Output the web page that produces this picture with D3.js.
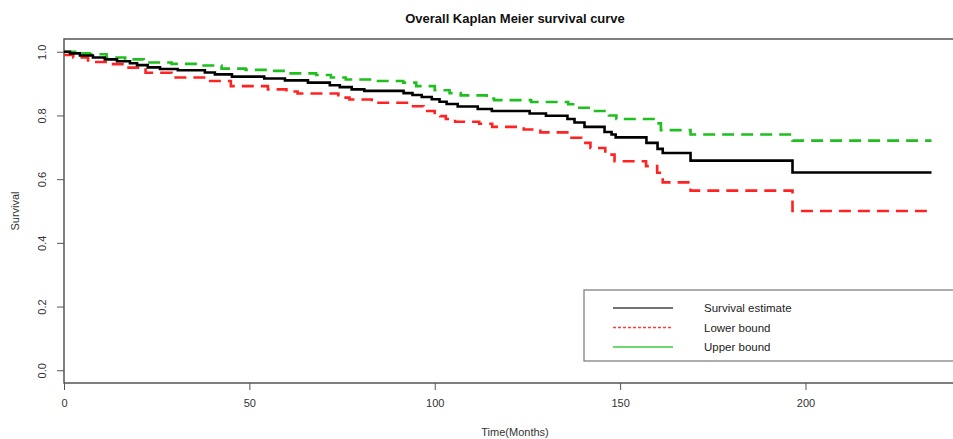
<!DOCTYPE html>
<html>
<head>
<meta charset="utf-8">
<script src="https://cdn.jsdelivr.net/npm/d3@7"></script>
<style>
  body { margin: 0; background: #fff; }
  svg { font-family: "Liberation Sans", Arial, sans-serif; }
</style>
</head>
<body>
<svg id="chart" width="953" height="439"></svg>
<script>
// survival estimate (months, S)
var estTime = [0, 1.6, 4.3, 7.8, 11, 14.3, 17.8, 19.7, 22.6, 25.9, 30.7, 38, 40.7, 45.3, 54, 59.6, 65.8, 71.7, 74.4, 77.6, 81, 91.6, 94, 96.5, 99.2, 101.3, 103.2, 106.2, 111.6, 115.4, 125.6, 130, 135.8, 137.7, 140.4, 145.8, 147.7, 148.8, 157.1, 160.1, 161.5, 169, 196.5, 234];
var estSurv = [1.0, 0.995, 0.988, 0.982, 0.976, 0.970, 0.964, 0.958, 0.951, 0.946, 0.942, 0.935, 0.929, 0.922, 0.916, 0.910, 0.903, 0.895, 0.889, 0.882, 0.877, 0.870, 0.864, 0.858, 0.851, 0.843, 0.836, 0.828, 0.820, 0.814, 0.806, 0.799, 0.789, 0.778, 0.764, 0.748, 0.740, 0.731, 0.714, 0.695, 0.682, 0.658, 0.621, 0.621];
// lower bound
var lowTime = [0, 2.5, 6.5, 12, 16.5, 22, 29, 38.5, 45, 55, 60, 63, 74, 77, 83, 93, 97, 100, 101.5, 103, 105.5, 112, 115.5, 124, 128.5, 136.5, 139.5, 142, 146, 148.5, 157, 160, 161.5, 169, 196.5, 234];
var lowSurv = [0.99, 0.982, 0.968, 0.961, 0.950, 0.934, 0.919, 0.908, 0.892, 0.882, 0.875, 0.869, 0.856, 0.850, 0.840, 0.829, 0.814, 0.803, 0.798, 0.789, 0.780, 0.774, 0.764, 0.756, 0.747, 0.730, 0.714, 0.698, 0.677, 0.656, 0.641, 0.620, 0.590, 0.564, 0.50, 0.50];
// upper bound
var upTime = [0, 3, 7, 11.5, 16.5, 21.5, 29, 37, 42.5, 49, 55, 60, 68, 72, 76, 83, 91.5, 95, 100, 104, 107, 114, 116, 126, 136, 139, 142, 147, 149, 159, 161, 169, 196.5, 234];
var upSurv = [1.0, 0.995, 0.992, 0.982, 0.976, 0.966, 0.962, 0.957, 0.947, 0.943, 0.940, 0.932, 0.927, 0.919, 0.913, 0.908, 0.903, 0.892, 0.879, 0.870, 0.863, 0.853, 0.848, 0.842, 0.835, 0.824, 0.814, 0.800, 0.789, 0.775, 0.754, 0.740, 0.721, 0.721];

var xTicks = [0, 50, 100, 150, 200];
var yTicks = [0, 0.2, 0.4, 0.6, 0.8, 1.0];
var legendLabels = ["Survival estimate", "Lower bound", "Upper bound"];

var svg = d3.select('#chart');
var pLeft = 64, pRight = 966, pTop = 39, pBottom = 383;

var x = d3.scaleLinear().domain([0, 243.3]).range([pLeft, pRight]);
var y = d3.scaleLinear().domain([-0.04, 1.04]).range([pBottom, pTop]);

var zip = function(ts, ss) {
  return ts.map(function(t, i) { return {t: t, s: ss[i]}; });
};
var line = d3.line().x(function(d) { return x(d.t); }).y(function(d) { return y(d.s); }).curve(d3.curveStepAfter);

// plot box
svg.append('rect').attr('x', pLeft).attr('y', pTop).attr('width', pRight - pLeft).attr('height', pBottom - pTop)
  .attr('fill', 'none').attr('stroke', '#555').attr('stroke-width', 1.5);

// x axis
var xAxis = d3.axisBottom(x).tickValues(xTicks).tickSize(7).tickPadding(9).tickFormat(d3.format('d'));
var gx = svg.append('g').attr('transform', 'translate(0,' + pBottom + ')').call(xAxis);
gx.select('.domain').remove();
gx.selectAll('line').attr('stroke', '#555');
gx.selectAll('text').attr('fill', '#333').style('font-size', '11px');

// y axis, labels rotated like base R
var yAxis = d3.axisLeft(y).tickValues(yTicks).tickSize(7).tickFormat(d3.format('.1f'));
var gy = svg.append('g').attr('transform', 'translate(' + pLeft + ',0)').call(yAxis);
gy.select('.domain').remove();
gy.selectAll('line').attr('stroke', '#555');
gy.selectAll('text').attr('fill', '#333').style('font-size', '11px')
  .attr('x', null).attr('dy', null)
  .attr('text-anchor', 'middle')
  .attr('transform', 'translate(-18,0) rotate(-90)');

// titles
svg.append('text').attr('x', (pLeft + pRight) / 2).attr('y', 23).attr('text-anchor', 'middle')
  .style('font-size', '13px').style('font-weight', 'bold').attr('fill', '#111')
  .text('Overall Kaplan Meier survival curve');
svg.append('text').attr('x', (pLeft + pRight) / 2).attr('y', 436).attr('text-anchor', 'middle')
  .style('font-size', '11px').attr('fill', '#333').text('Time(Months)');
svg.append('text').attr('transform', 'translate(19,' + ((pTop + pBottom) / 2) + ') rotate(-90)')
  .attr('text-anchor', 'middle').style('font-size', '11px').attr('fill', '#333').text('Survival');

// curves
var series = [
  {data: zip(upTime, upSurv), color: '#1fbf1f', dash: '12,7', width: 2.6},
  {data: zip(lowTime, lowSurv), color: '#f22', dash: '12,7', width: 2.6},
  {data: zip(estTime, estSurv), color: '#000', dash: null, width: 2.6}
];
svg.selectAll('path.curve').data(series).enter().append('path')
  .attr('class', 'curve')
  .attr('d', function(d) { return line(d.data); })
  .attr('fill', 'none')
  .attr('stroke', function(d) { return d.color; })
  .attr('stroke-width', function(d) { return d.width; })
  .attr('stroke-dasharray', function(d) { return d.dash; });

// legend
var lg = svg.append('g');
lg.append('rect').attr('x', 584).attr('y', 290).attr('width', 400).attr('height', 71)
  .attr('fill', '#fff').attr('stroke', '#777').attr('stroke-width', 1.2);
var legendStyle = [
  {color: '#444', dash: null},
  {color: 'rgb(255,60,60)', dash: '3,2'},
  {color: 'rgb(60,205,60)', dash: null}
];
legendLabels.forEach(function(lab, i) {
  var yy = 308 + i * 19.5;
  lg.append('line').attr('x1', 613).attr('x2', 673).attr('y1', yy).attr('y2', yy)
    .style('stroke', legendStyle[i].color).style('stroke-width', '1.3px')
    .style('stroke-dasharray', legendStyle[i].dash);
  lg.append('text').attr('x', 704).attr('y', yy + 4).style('font-size', '11.5px').attr('fill', '#222').text(lab);
});
</script>
</body>
</html>
